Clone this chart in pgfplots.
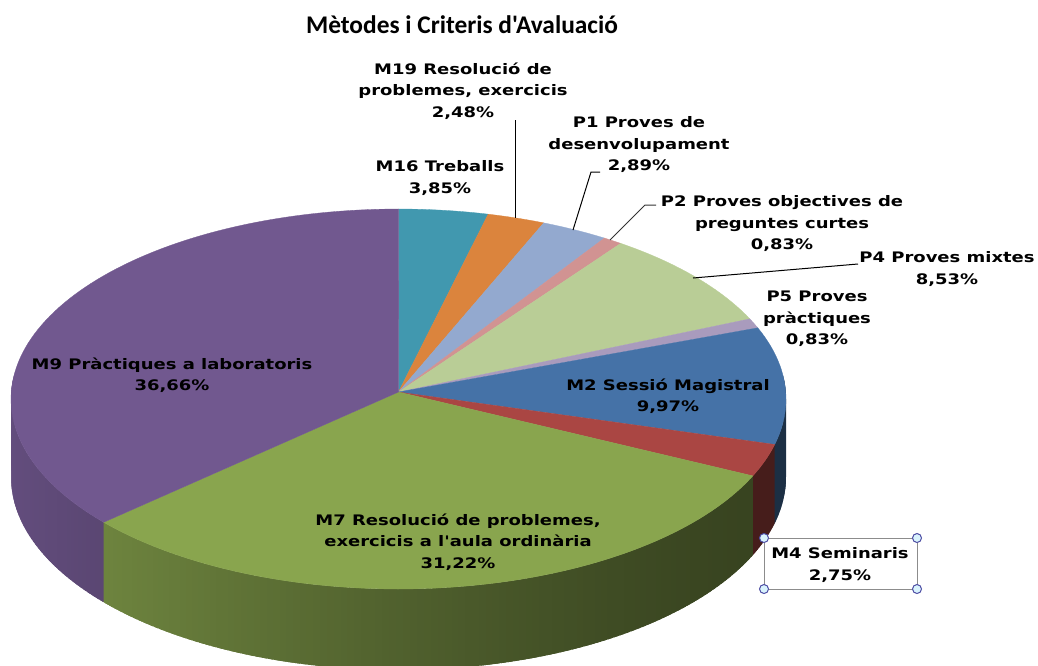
\documentclass[border=0pt]{standalone}
\usepackage{pgfplots}
\usepackage{pgfplotstable}
\usepackage{fontspec}
\pgfplotsset{compat=1.18}
\setmainfont{DejaVu Sans}
\newfontfamily\titlefont{Carlito}
\newfontfamily\labfont[FakeStretch=1.24]{DejaVu Sans}
\definecolor{c16}{HTML}{4198AF}
\definecolor{c19}{HTML}{DB843D}
\definecolor{p1}{HTML}{93A9CF}
\definecolor{p2}{HTML}{D19392}
\definecolor{p4}{HTML}{B9CD96}
\definecolor{p5}{HTML}{A99BBD}
\definecolor{m2}{HTML}{4572A7}
\definecolor{m4}{HTML}{AA4643}
\definecolor{m7}{HTML}{89A54E}
\definecolor{m9}{HTML}{71588F}
\pgfplotstableread{
pct col
3.85 c16
2.48 c19
2.89 p1
0.83 p2
8.53 p4
0.83 p5
9.97 m2
2.75 m4
31.22 m7
36.66 m9
}\slices
% pixel position of the rim of the disc for an angle measured clockwise from the top
\newcommand{\setpt}[1]{%
  \pgfmathsetmacro{\ph}{#1-2*sin(#1)}%
  \pgfmathsetmacro{\px}{398.5+387.5*sin(\ph)}%
  \pgfmathsetmacro{\py}{399-190*cos(\ph)}%
  \pgfmathsetmacro{\qy}{477-193*cos(\ph)}}
\tikzset{lab/.style={font=\labfont\fontsize{14.5}{21.5}\selectfont\bfseries,align=center,inner sep=0pt,text=black},
  handle/.style={draw=black!15!blue!40!gray,fill=cyan!15!white,line width=1pt}}
\begin{document}
\begin{tikzpicture}
\begin{axis}[name=ax,scale only axis,width=1038pt,height=665pt,xmin=0,xmax=1038,ymin=0,ymax=665,
  y dir=reverse,hide axis,enlargelimits=false]
\pgfplotstablegetrowsof{\slices}
\pgfmathtruncatemacro{\last}{\pgfplotsretval-1}
% ---- side wall
\gdef\cum{0}
\foreach \i in {0,...,\last}{%
  \pgfplotstablegetelem{\i}{pct}\of\slices\let\pct\pgfplotsretval
  \pgfplotstablegetelem{\i}{col}\of\slices\let\col\pgfplotsretval
  \pgfmathsetmacro{\ta}{\cum*3.6}%
  \pgfmathsetmacro{\tb}{(\cum+\pct)*3.6}%
  \pgfmathparse{\cum+\pct}\xdef\cum{\pgfmathresult}%
  \pgfmathsetmacro{\lo}{max(\ta,85)}%
  \pgfmathsetmacro{\hi}{min(\tb,275)}%
  \pgfmathparse{\hi>\lo?1:0}%
  \pgfmathtruncatemacro{\vis}{\pgfmathresult}%
  \ifnum\vis>0\relax
    \pgfmathtruncatemacro{\n}{ceil((\hi-\lo)/1)}%
    \foreach \j in {1,...,\n}{%
      \pgfmathsetmacro{\sa}{\lo+(\j-1)*(\hi-\lo)/\n}%
      \pgfmathsetmacro{\sb}{\lo+\j*(\hi-\lo)/\n}%
      \pgfmathsetmacro{\sc}{\sb+0.8}%
      \setpt{\sa}\let\xa\px\let\ya\py\let\qa\qy
      \setpt{\sb}\let\xb\px
      \setpt{\sc}\let\xc\px\let\yc\py\let\qc\qy
      \pgfmathsetmacro{\F}{41+39*pow(max(750-(\xa+\xb)/2,0)/647,1.3)}%
      \edef\temp{\noexpand\addplot[fill={\col!\F!black},draw=none]
        coordinates {(\xa,\ya)(\xc,\yc)(\xc,\qc)(\xa,\qa)} --cycle;}%
      \temp
    }%
  \fi
}
% ---- top face
\gdef\cum{0}
\foreach \i in {0,...,\last}{%
  \pgfplotstablegetelem{\i}{pct}\of\slices\let\pct\pgfplotsretval
  \pgfplotstablegetelem{\i}{col}\of\slices\let\col\pgfplotsretval
  \pgfmathsetmacro{\ta}{\cum*3.6}%
  \pgfmathsetmacro{\tb}{(\cum+\pct)*3.6}%
  \pgfmathparse{\cum+\pct}\xdef\cum{\pgfmathresult}%
  \pgfmathtruncatemacro{\n}{ceil((\tb-\ta)/1.5)}%
  \gdef\coords{(398.5,392)}%
  \foreach \j in {0,...,\n}{%
    \pgfmathsetmacro{\sa}{\ta+\j*(\tb-\ta)/\n}%
    \setpt{\sa}%
    \xdef\coords{\coords(\px,\py)}%
  }%
  \edef\temp{\noexpand\addplot[fill=\col,draw=\col,line width=0.3pt] coordinates {\coords} --cycle;}%
  \temp
}
% ---- leader lines
\addplot[black,line width=1pt] coordinates {(515,120)(515,218)};
\addplot[black,line width=1pt] coordinates {(600,172)(591,172)(573,230)};
\addplot[black!80,line width=1pt] coordinates {(656,205)(645,205)(610,240)};
\addplot[black,line width=1pt] coordinates {(858,264)(693,278)};
% ---- texts
\node[font=\titlefont\fontsize{25.4}{28}\selectfont\bfseries,inner sep=0pt] at (462,25) {Mètodes i Criteris d'Avaluació};
\node[lab] at (463,91) {M19 Resolució de\\problemes, exercicis\\2,48\%};
\node[lab] at (440,178) {M16 Treballs\\3,85\%};
\node[lab] at (639,145) {P1 Proves de\\desenvolupament\\2,89\%};
\node[lab] at (782,224) {P2 Proves objectives de\\preguntes curtes\\0,83\%};
\node[lab] at (947,269) {P4 Proves mixtes\\8,53\%};
\node[lab] at (817,319) {P5 Proves\\pràctiques\\0,83\%};
\node[lab] at (668,396) {M2 Sessió Magistral\\9,97\%};
\node[lab] at (172,375) {M9 Pràctiques a laboratoris\\36,66\%};
\node[lab] at (458,542) {M7 Resolució de problemes,\\exercicis a l'aula ordinària\\31,22\%};
\draw[black!45,line width=1pt] (764,538) rectangle (917,589);
\node[lab] at (840,565) {M4 Seminaris\\2,75\%};
\foreach \hx/\hy in {764/538,917/538,764/589,917/589}{
  \edef\temp{\noexpand\draw[handle] (\hx,\hy) circle (4.5pt);}\temp
}
\end{axis}
\path (ax.south west) rectangle (ax.north east);
\end{tikzpicture}
\end{document}
